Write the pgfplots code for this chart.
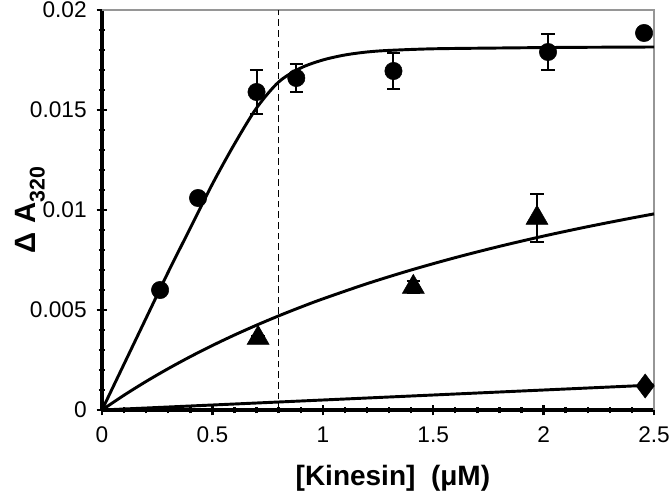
\documentclass[border=0pt]{standalone}
\usepackage{pgfplots}
\pgfplotsset{compat=1.18}
\usepackage{fontspec}
\setmainfont{Liberation Sans}
\definecolor{frame}{RGB}{150,150,150}
\begin{document}
\begin{tikzpicture}
\begin{axis}[
  name=ax,
  scale only axis,
  width=414pt, height=300pt,
  xmin=0, xmax=2.5, ymin=0, ymax=0.02,
  axis x line*=bottom, axis y line*=left,
  axis line style={line width=2.8pt, -},
  xtick={0,0.5,1,1.5,2,2.5},
  ytick={0,0.005,0.01,0.015,0.02},
  minor x tick num=4, minor y tick num=4,
  tick align=center,
  major tick length=8pt, minor tick length=5pt,
  every tick/.style={black, line width=1.8pt},
  /pgf/number format/assume math mode=true,
  /pgf/number format/fixed,
  /pgf/number format/precision=3,
  scaled y ticks=false,
  ticklabel style={font=\fontsize{17}{17}\selectfont},
  xticklabel style={yshift=-5pt},
  yticklabel style={xshift=-4pt},
  xlabel={\textbf{[Kinesin]\ \ (μM)}},
  xlabel style={font=\fontsize{21}{21}\selectfont, at={(axis description cs:0.527,0)}, anchor=center, yshift=-51pt},
  ylabel={\textbf{Δ A\raisebox{-0.3em}{\fontsize{16}{16}\selectfont 320}}},
  ylabel style={font=\fontsize{22}{22}\selectfont, at={(axis description cs:-0.13,0.5)}, anchor=center},
  clip=false,
]
% frame top and right
\draw[frame, line width=0.8pt] (rel axis cs:0,1) -- (rel axis cs:1,1) -- (rel axis cs:1,0);
% dashed vertical line
\addplot[black, line width=0.8pt, dash pattern=on 5pt off 3pt] coordinates {(0.8,0) (0.8,0.02)};
% fitted curves
\addplot[black, line width=2.2pt, smooth] coordinates {
(0,0) (0.1,0.0023) (0.2,0.0046) (0.3,0.0069) (0.4,0.0091) (0.5,0.0113) (0.6,0.0133) (0.7,0.0151) (0.8,0.0164) (0.9,0.0171) (1.0,0.0175) (1.1,0.01775) (1.2,0.0179) (1.3,0.01798) (1.5,0.01806) (1.8,0.0181) (2.1,0.01813) (2.5,0.01815)};
\addplot[black, line width=2.2pt, smooth] coordinates {
(0,0) (0.1,0.000741) (0.2,0.001429) (0.3,0.002069) (0.4,0.002667) (0.5,0.003226) (0.6,0.00375) (0.7,0.004242) (0.8,0.004706) (0.9,0.005143) (1.0,0.005556) (1.2,0.006316) (1.4,0.007) (1.6,0.007619) (1.8,0.008182) (2.0,0.008696) (2.2,0.009167) (2.4,0.0096) (2.5,0.009804)};
\addplot[black, line width=2.2pt] coordinates {(0,0) (2.5,0.00125)};
% data
\addplot[black, only marks, mark=*, mark size=6.5pt,
  error bars/.cd, y dir=both, y explicit,
  error bar style={line width=1.5pt},
  error mark options={rotate=90, mark size=5pt, line width=1.5pt}]
  coordinates {
  (0.263,0.0060) +- (0,0)
  (0.435,0.0106) +- (0,0)
  (0.70,0.0159) +- (0,0.0011)
  (0.88,0.0166) +- (0,0.0007)
  (1.32,0.01695) +- (0,0.0009)
  (2.02,0.0179) +- (0,0.0009)
  (2.455,0.01885) +- (0,0)
  };
\addplot[black, only marks, mark=triangle*, mark size=9.5pt,
  error bars/.cd, y dir=both, y explicit,
  error bar style={line width=1.5pt},
  error mark options={rotate=90, mark size=5pt, line width=1.5pt}]
  coordinates {
  (0.707,0.0036) +- (0,0.0001)
  (1.41,0.00615) +- (0,0.0003)
  (1.97,0.0096) +- (0,0.0012)
  };
\addplot[black, only marks, mark=diamond*, mark size=9pt]
  coordinates {(2.46,0.0012)};
\end{axis}
\pgfresetboundingbox
\path[use as bounding box] ([shift={(-76.5pt,-67.5pt)}]ax.south west) rectangle ([shift={(11.25pt,7.5pt)}]ax.north east);
\end{tikzpicture}
\end{document}
